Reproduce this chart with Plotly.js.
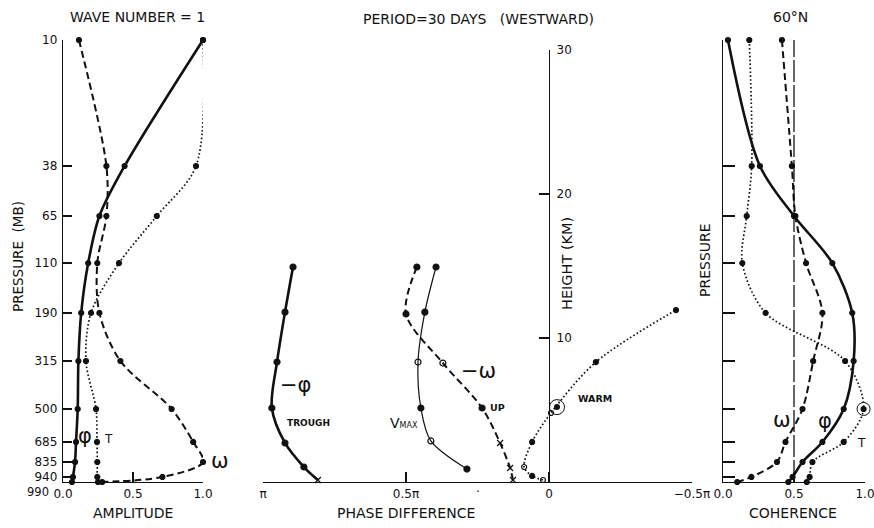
<!DOCTYPE html>
<html><head><meta charset="utf-8">
<script src="https://cdn.plot.ly/plotly-3.0.1.min.js"></script>
<style>html,body{margin:0;padding:0;background:#fff}</style>
</head><body><div id="chart" style="width:874px;height:528px"></div>
<script>
// Pressure levels (mb) and their heights (km) on the shared height scale
const pressureLevels = [10, 38, 65, 110, 190, 315, 500, 685, 835, 940, 990];
const levelHeightKm  = [30.69, 21.94, 18.47, 15.2, 11.74, 8.40, 5.07, 2.78, 1.39, 0.35, 0];

// Left panel: amplitude
const ampPhi   = [1.0, 0.44, 0.26, 0.18, 0.13, 0.11, 0.105, 0.093, 0.086, 0.071, 0.064];
const ampOmega = [0.114, 0.31, 0.31, 0.245, 0.26, 0.41, 0.776, 0.93, 1.0, 0.71, 0.28];
const ampT     = [1.0, 0.95, 0.67, 0.40, 0.20, 0.164, 0.236, 0.243, 0.245, 0.245, 0.25];

// Middle panel: phase difference (units of pi) vs height (km)
const troughPhase = [0.895, 0.923, 0.951, 0.969, 0.923, 0.857, 0.808];
const troughH     = [14.93, 11.8, 8.33, 5.14, 2.71, 1.04, 0.14];
const troughSym   = ['circle','circle','circle','circle','circle','circle','x-thin-open'];
const vmaxPhase   = [0.395, 0.434, 0.458, 0.448, 0.413, 0.287];
const vmaxH       = [14.93, 11.8, 8.33, 5.14, 2.85, 0.9];
const vmaxSym     = ['circle','circle','circle-open','circle','circle-open','circle'];
const upPhase     = [0.462, 0.50, 0.371, 0.234, 0.171, 0.136, 0.126];
const upH         = [14.93, 11.67, 8.26, 5.14, 2.71, 0.97, 0.14];
const upSym       = ['circle','circle','circle-open','circle','x-thin-open','x-thin-open','x-thin-open'];
const warmPhase   = [0.021, 0.059, 0.087, 0.059, -0.007, -0.164, -0.444];
const warmH       = [0.14, 0.42, 1.04, 2.78, 4.79, 8.33, 11.94];
const warmSym     = ['circle-open','circle','circle-open','circle','circle-open','circle','circle'];
const warmMarkPhase = [-0.028];
const warmMarkH     = [5.2];
const phaseTickVals = [1, 0.5, 0, -0.5];
const phaseTickText = ['π', '0.5π', '0', '−0.5π'];
const heightTicks   = [10, 20, 30];

// Right panel: coherence
const cohPhi   = [0.035, 0.26, 0.50, 0.77, 0.91, 0.92, 0.85, 0.70, 0.56, 0.49, 0.46];
const cohOmega = [0.415, 0.485, 0.51, 0.585, 0.70, 0.635, 0.56, 0.44, 0.38, 0.20, 0.10];
const cohT     = [0.185, 0.202, 0.167, 0.136, 0.30, 0.86, 0.99, 0.85, 0.63, 0.61, 0.59];
const cohSignif = 0.5;
const unitTicks = [0, 0.5, 1];
const unitTickText = ['0.0', '0.5', '1.0'];

const F = 'DejaVu Sans, Liberation Sans, sans-serif';
const K = '#111';
const W = 874, H = 528;
const px = v => v / W, py = v => 1 - v / H;

const dotted = '1.6px,2.3px';
const dashed = '7px,4px';

function tr(x, y, xa, ya, lw, dash, sym, size) {
  return {x: x, y: y, xaxis: xa, yaxis: ya, type: 'scatter', mode: 'lines+markers',
    line: {color: K, width: lw, dash: dash, shape: 'spline', smoothing: 0.9},
    marker: {color: K, size: size || 5, symbol: sym || 'circle', line: {color: K, width: 1.2}},
    cliponaxis: false, hoverinfo: 'skip'};
}

const data = [
  tr(ampPhi, levelHeightKm, 'x', 'y', 2.6, 'solid'),
  tr(ampOmega, levelHeightKm, 'x', 'y', 2, dashed),
  tr(ampT, levelHeightKm, 'x', 'y', 1.7, dotted),

  tr(troughPhase, troughH, 'x2', 'y2', 2.6, 'solid', troughSym, 6),
  tr(vmaxPhase, vmaxH, 'x2', 'y2', 1.2, 'solid', vmaxSym, 6),
  tr(upPhase, upH, 'x2', 'y2', 2, dashed, upSym, 6),
  tr(warmPhase, warmH, 'x2', 'y2', 1.7, dotted, warmSym, 5),
  {x: warmMarkPhase, y: warmMarkH, xaxis: 'x2', yaxis: 'y2', type: 'scatter', mode: 'markers',
   marker: {color: K, size: 6, symbol: 'circle'}, cliponaxis: false, hoverinfo: 'skip'},
  {x: warmMarkPhase, y: warmMarkH, xaxis: 'x2', yaxis: 'y2', type: 'scatter', mode: 'markers',
   marker: {color: K, size: 15, symbol: 'circle-open', line: {color: K, width: 1}}, cliponaxis: false, hoverinfo: 'skip'},

  tr(cohPhi, levelHeightKm, 'x3', 'y3', 2.6, 'solid'),
  tr(cohOmega, levelHeightKm, 'x3', 'y3', 2, dashed),
  tr(cohT, levelHeightKm, 'x3', 'y3', 1.7, dotted),
  {x: [cohT[6]], y: [levelHeightKm[6]], xaxis: 'x3', yaxis: 'y3', type: 'scatter', mode: 'markers',
   marker: {color: K, size: 13, symbol: 'circle-open', line: {color: K, width: 1}}, cliponaxis: false, hoverinfo: 'skip'},
  {x: [cohSignif, cohSignif], y: [0, levelHeightKm[0]], xaxis: 'x3', yaxis: 'y3', type: 'scatter', mode: 'lines',
   line: {color: '#000', width: 1.2, dash: '22px,3px'}, hoverinfo: 'skip'}
];

const yDom = [1 - 482 / H, 1 - 40 / H];
const axBase = {showgrid: false, zeroline: false, showline: true, linecolor: K, linewidth: 1.2,
  ticks: 'inside', tickcolor: K, tickwidth: 1.2, tickfont: {family: F, size: 12, color: K},
  ticklabeloverflow: 'allow', fixedrange: true};

// The lowest level (990) is labelled separately below the axis corner
const labelledLevels = levelHeightKm.slice(0, -1);
const labelledText = pressureLevels.slice(0, -1).map(String);

const layout = {
  width: W, height: H, margin: {l: 0, r: 0, t: 0, b: 0},
  paper_bgcolor: '#fff', plot_bgcolor: 'rgba(0,0,0,0)', showlegend: false,
  font: {family: F, color: K},
  xaxis: Object.assign({}, axBase, {domain: [px(63), px(203)], range: [0, 1], anchor: 'y',
    tickvals: unitTicks, ticktext: unitTickText, ticklen: 10}),
  yaxis: Object.assign({}, axBase, {domain: yDom, range: [0, levelHeightKm[0]], anchor: 'x',
    tickvals: labelledLevels, ticktext: labelledText, ticklen: 9, ticklabelstandoff: 2}),
  xaxis2: Object.assign({}, axBase, {domain: [px(263), px(692)], range: [1, -0.5], anchor: 'y2',
    tickvals: phaseTickVals, ticktext: phaseTickText, ticklen: 10}),
  yaxis2: Object.assign({}, axBase, {domain: [1 - 482 / H, 1 - 50 / H], range: [0, 30], anchor: 'free',
    position: px(549), side: 'right', tickvals: heightTicks, ticklen: 10, ticklabelstandoff: 4}),
  xaxis3: Object.assign({}, axBase, {domain: [px(723), px(865)], range: [0, 1], anchor: 'y3',
    tickvals: unitTicks, ticktext: unitTickText, ticklen: 10}),
  yaxis3: Object.assign({}, axBase, {domain: yDom, range: [0, levelHeightKm[0]], anchor: 'x3',
    tickvals: levelHeightKm, showticklabels: false, ticklen: 12}),
  annotations: []
};

function ann(text, x, y, size, opts) {
  return Object.assign({text: text, x: px(x), y: py(y), xref: 'paper', yref: 'paper',
    showarrow: false, xanchor: 'center', yanchor: 'middle',
    font: {family: F, size: size, color: K}}, opts || {});
}
const bold = s => ({family: F, size: s, color: K, weight: 'bold'});
layout.annotations = [
  ann('WAVE NUMBER = 1', 137, 17, 14),
  ann('PERIOD=30 DAYS&nbsp;&nbsp;&nbsp;(WESTWARD)', 478, 19, 14),
  ann('60°N', 790, 17, 14),
  ann('PRESSURE&nbsp;&nbsp;(MB)', 18, 257, 13.5, {textangle: -90}),
  ann('HEIGHT (KM)', 567, 264, 14.5, {textangle: -90}),
  ann('PRESSURE', 705, 260, 14, {textangle: -90}),
  ann(String(pressureLevels[pressureLevels.length - 1]), 51, 492, 11.5, {xanchor: 'right'}),
  ann('AMPLITUDE', 133, 513, 14),
  ann('PHASE DIFFERENCE', 406, 513, 14),
  ann('COHERENCE', 793, 513, 14),
  ann('.', 478, 488, 12),
  ann('φ', 85, 436, 21),
  ann('T', 108, 439, 12),
  ann('ω', 220, 461, 21),
  ann('−φ', 295, 385, 21),
  ann('TROUGH', 308, 423, 9, {font: bold(9)}),
  ann('V<span style="font-size:8px">MAX</span>', 404, 423, 14),
  ann('−ω', 478, 371, 21),
  ann('UP', 497, 407, 9.5, {font: bold(9.5)}),
  ann('WARM', 595, 398, 9.5, {font: bold(9.5)}),
  ann('ω', 782, 420, 21),
  ann('φ', 825, 421, 21),
  ann('T', 861, 443, 12)
];

Plotly.newPlot('chart', data, layout, {staticPlot: true, displayModeBar: false});
</script></body></html>
